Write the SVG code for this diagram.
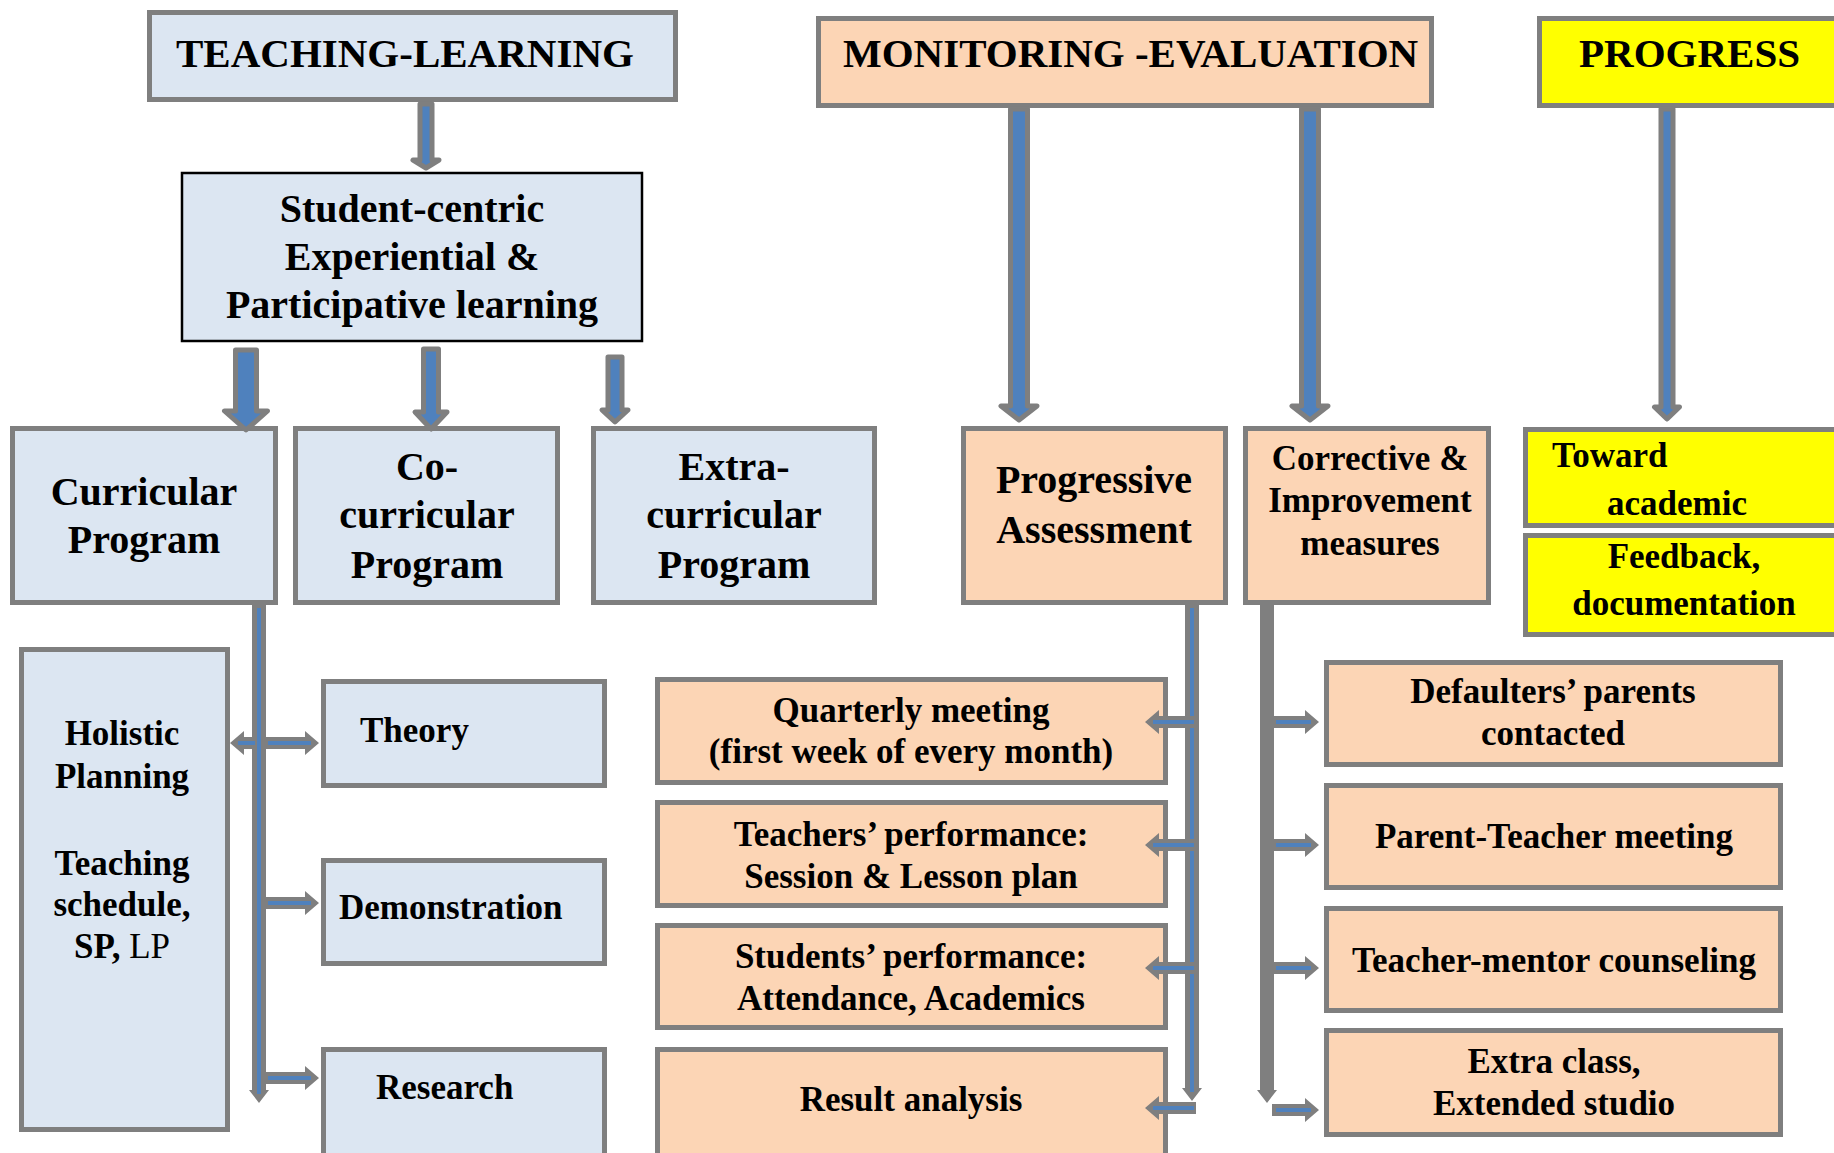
<svg xmlns="http://www.w3.org/2000/svg" width="1834" height="1153" viewBox="0 0 1834 1153">
<style>
.tl{fill:#dce6f2;stroke:#7f7f7f;stroke-width:5}
.me{fill:#fcd5b5;stroke:#7f7f7f;stroke-width:5}
.pg{fill:#ffff00;stroke:#7f7f7f;stroke-width:5}
.sc{fill:#dce6f2;stroke:#000;stroke-width:2.5}
text{font-family:"Liberation Serif","Times New Roman",serif;font-weight:bold;fill:#000}
.h{font-size:41px}
.l{font-size:40px}
.m{font-size:35px}
.c{text-anchor:middle}
.big{fill:#4f81bd;stroke:#7f7f7f;stroke-width:5;stroke-linejoin:round}
.gr{fill:#7f7f7f}
.bl{stroke:#4f81bd;stroke-width:4;fill:none}
</style>
<rect width="1834" height="1153" fill="#fff"/>
<g id="teaching-learning"><rect class="tl" x="149.5" y="12.5" width="526" height="87"/><text class="h" x="176" y="67">TEACHING-LEARNING</text></g>
<g id="monitoring-evaluation"><rect class="me" x="818.5" y="18.5" width="613" height="87"/><text class="h" x="843" y="67">MONITORING -EVALUATION</text></g>
<g id="progress"><rect class="pg" x="1539.5" y="18.5" width="320" height="87"/><text class="h" x="1579" y="67">PROGRESS</text></g>
<g id="student-centric"><rect class="sc" x="182" y="173" width="460" height="168"/>
<text class="l c" x="412" y="222">Student-centric</text><text class="l c" x="412" y="270">Experiential &amp;</text><text class="l c" x="412" y="318">Participative learning</text></g>
<g id="curricular"><rect class="tl" x="12.5" y="428.5" width="263" height="174"/><text class="l c" x="144" y="505">Curricular</text><text class="l c" x="144" y="553">Program</text></g>
<g id="co-curricular"><rect class="tl" x="295.5" y="428.5" width="262" height="174"/><text class="l c" x="427" y="480">Co-</text><text class="l c" x="427" y="528">curricular</text><text class="l c" x="427" y="578">Program</text></g>
<g id="extra-curricular"><rect class="tl" x="593.5" y="428.5" width="281" height="174"/><text class="l c" x="734" y="480">Extra-</text><text class="l c" x="734" y="528">curricular</text><text class="l c" x="734" y="578">Program</text></g>
<g id="progressive-assessment"><rect class="me" x="963.5" y="428.5" width="262" height="174"/><text class="l c" x="1094" y="493">Progressive</text><text class="l c" x="1094" y="543">Assessment</text></g>
<g id="corrective"><rect class="me" x="1245.5" y="428.5" width="243" height="174"/><text class="m c" x="1370" y="470">Corrective &amp;</text><text class="m c" x="1370" y="512">Improvement</text><text class="m c" x="1370" y="555">measures</text></g>
<g id="toward-academic"><rect class="pg" x="1525.5" y="429.5" width="320" height="96"/><text class="m" x="1552" y="467">Toward</text><text class="m" x="1607" y="515">academic</text></g>
<g id="feedback"><rect class="pg" x="1525.5" y="535.5" width="320" height="99"/><text class="m c" x="1684" y="568">Feedback,</text><text class="m c" x="1684" y="615">documentation</text></g>
<g id="holistic"><rect class="tl" x="21.5" y="649.5" width="206" height="480"/>
<text class="m c" x="122" y="745">Holistic</text><text class="m c" x="122" y="788">Planning</text><text class="m c" x="122" y="875">Teaching</text><text class="m c" x="122" y="916">schedule,</text><text class="m c" x="122" y="958">SP, <tspan font-weight="normal">LP</tspan></text></g>
<g id="theory"><rect class="tl" x="323.5" y="681.5" width="281" height="104"/><text class="m" x="360" y="742">Theory</text></g>
<g id="demonstration"><rect class="tl" x="323.5" y="860.5" width="281" height="103"/><text class="m" x="339" y="919">Demonstration</text></g>
<g id="research"><rect class="tl" x="323.5" y="1049.5" width="281" height="110"/><text class="m" x="376" y="1099">Research</text></g>
<g id="quarterly"><rect class="me" x="657.5" y="679.5" width="508" height="103"/><text class="m c" x="911" y="722">Quarterly meeting</text><text class="m c" x="911" y="763">(first week of every month)</text></g>
<g id="teachers-performance"><rect class="me" x="657.5" y="802.5" width="508" height="103"/><text class="m c" x="911" y="846">Teachers’ performance:</text><text class="m c" x="911" y="888">Session &amp; Lesson plan</text></g>
<g id="students-performance"><rect class="me" x="657.5" y="925.5" width="508" height="102"/><text class="m c" x="911" y="968">Students’ performance:</text><text class="m c" x="911" y="1010">Attendance, Academics</text></g>
<g id="result-analysis"><rect class="me" x="657.5" y="1049.5" width="508" height="110"/><text class="m c" x="911" y="1111">Result analysis</text></g>
<g id="defaulters"><rect class="me" x="1326.5" y="662.5" width="454" height="102"/><text class="m c" x="1553" y="703">Defaulters’ parents</text><text class="m c" x="1553" y="745">contacted</text></g>
<g id="parent-teacher"><rect class="me" x="1326.5" y="785.5" width="454" height="102"/><text class="m c" x="1554" y="848">Parent-Teacher meeting</text></g>
<g id="teacher-mentor"><rect class="me" x="1326.5" y="908.5" width="454" height="102"/><text class="m c" x="1554" y="972">Teacher-mentor counseling</text></g>
<g id="extra-class"><rect class="me" x="1326.5" y="1030.5" width="454" height="104"/><text class="m c" x="1554" y="1073">Extra class,</text><text class="m c" x="1554" y="1115">Extended studio</text></g>
<g id="connectors">
<polygon class="big" points="420,104 432,104 432,160 439,160 426,168 413,160 420,160"/>
<polygon class="big" points="235.5,350 256.5,350 256.5,411 267.5,411 246,430 224.5,411 235.5,411"/>
<polygon class="big" points="423.5,349 438.5,349 438.5,412 447,412 431,429 415,412 423.5,412"/>
<polygon class="big" points="608,357 622,357 622,410 628,410 615,422 602,410 608,410"/>
<polygon class="big" points="1010.5,109 1027.5,109 1027.5,406 1037,406 1019,420 1001,406 1010.5,406"/>
<polygon class="big" points="1301.5,109 1318.5,109 1318.5,406 1328,406 1310,420 1292,406 1301.5,406"/>
<polygon class="big" points="1661,109 1673,109 1673,407 1679.5,407 1667,419 1654.5,407 1661,407"/>
<polygon class="gr" points="252,604 266,604 266,1090 269,1090 259,1103 249,1090 252,1090"/>
<line class="bl" x1="259" y1="608" x2="259" y2="1094"/>
<polygon class="gr" points="1185,604 1199,604 1199,1088 1202,1088 1192,1101 1182,1088 1185,1088"/>
<line class="bl" x1="1192" y1="608" x2="1192" y2="1092"/>
<polygon class="gr" points="1260,604 1274,604 1274,1090 1277,1090 1267,1103 1257,1090 1260,1090"/>
<polygon class="gr" points="266,737 305,737 305,731 319,743 305,755 305,749 266,749"/>
<line class="bl" x1="268" y1="743" x2="311" y2="743"/>
<polygon class="gr" points="257,737 244,737 244,731 230,743 244,755 244,749 257,749"/>
<line class="bl" x1="255" y1="743" x2="238" y2="743"/>
<polygon class="gr" points="266,897 305,897 305,891 319,903 305,915 305,909 266,909"/>
<line class="bl" x1="268" y1="903" x2="311" y2="903"/>
<polygon class="gr" points="266,1072 305,1072 305,1066 319,1078 305,1090 305,1084 266,1084"/>
<line class="bl" x1="268" y1="1078" x2="311" y2="1078"/>
<polygon class="gr" points="1196,716 1159,716 1159,710 1145,722 1159,734 1159,728 1196,728"/>
<line class="bl" x1="1194" y1="722" x2="1153" y2="722"/>
<polygon class="gr" points="1196,839 1159,839 1159,833 1145,845 1159,857 1159,851 1196,851"/>
<line class="bl" x1="1194" y1="845" x2="1153" y2="845"/>
<polygon class="gr" points="1196,962 1159,962 1159,956 1145,968 1159,980 1159,974 1196,974"/>
<line class="bl" x1="1194" y1="968" x2="1153" y2="968"/>
<polygon class="gr" points="1196,1102 1159,1102 1159,1096 1145,1108 1159,1120 1159,1114 1196,1114"/>
<line class="bl" x1="1194" y1="1108" x2="1153" y2="1108"/>
<polygon class="gr" points="1272,716 1305,716 1305,710 1319,722 1305,734 1305,728 1272,728"/>
<line class="bl" x1="1276" y1="722" x2="1311" y2="722"/>
<polygon class="gr" points="1272,839 1305,839 1305,833 1319,845 1305,857 1305,851 1272,851"/>
<line class="bl" x1="1276" y1="845" x2="1311" y2="845"/>
<polygon class="gr" points="1272,962 1305,962 1305,956 1319,968 1305,980 1305,974 1272,974"/>
<line class="bl" x1="1276" y1="968" x2="1311" y2="968"/>
<polygon class="gr" points="1272,1104 1305,1104 1305,1098 1319,1110 1305,1122 1305,1116 1272,1116"/>
<line class="bl" x1="1276" y1="1110" x2="1311" y2="1110"/>
</g>
</svg>
